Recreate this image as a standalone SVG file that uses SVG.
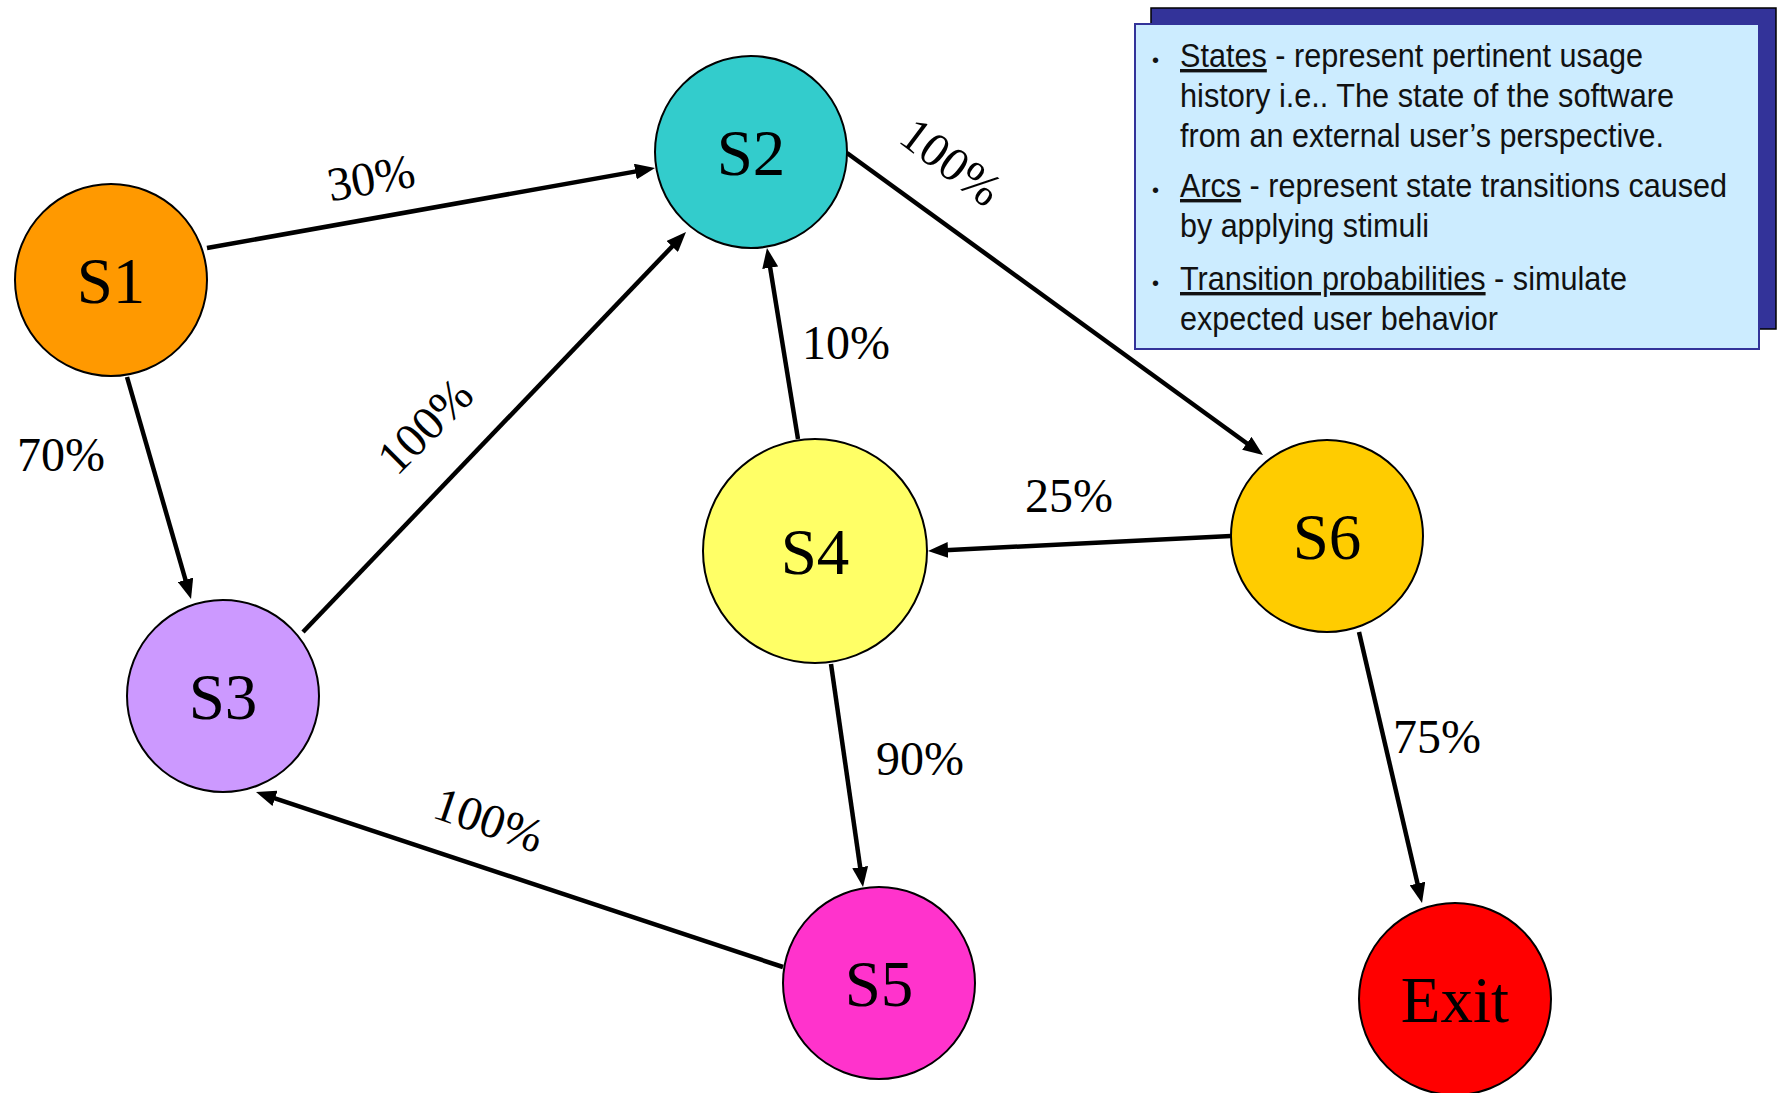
<svg xmlns="http://www.w3.org/2000/svg" width="1779" height="1093" viewBox="0 0 1779 1093">
  <style>
    .node { stroke: #000; stroke-width: 2; }
    .nlabel { font-family: "Liberation Serif", "Times New Roman", serif; font-size: 65px; fill: #000; text-anchor: middle; }
    .elabel { font-family: "Liberation Serif", "Times New Roman", serif; font-size: 48px; fill: #000; text-anchor: middle; }
    .edge { stroke: #000; stroke-width: 4.5; fill: none; marker-end: url(#arrow); }
    .info { font-family: "Liberation Sans Narrow", "Arial Narrow", "Liberation Sans", Arial, sans-serif; font-size: 34px; fill: #111; }
    .bullet { font-family: "Liberation Sans", Arial, sans-serif; font-size: 20px; fill: #111; }
    .u { text-decoration: underline; }
  </style>
  <defs>
    <marker id="arrow" markerUnits="userSpaceOnUse" markerWidth="20" markerHeight="16" refX="8" refY="8" orient="auto" viewBox="0 0 20 16">
      <path d="M0,0 L20,8 L0,16 z" fill="#000"/>
    </marker>
  </defs>
  <rect width="1779" height="1093" fill="#fff"/>

  <g id="connectors">
    <line class="edge" x1="207" y1="248" x2="643.2" y2="170.1"/>
    <line class="edge" x1="127" y1="377" x2="187.7" y2="587.5"/>
    <line class="edge" x1="303" y1="632" x2="677.7" y2="240.7"/>
    <line class="edge" x1="798" y1="439" x2="768.9" y2="259.8"/>
    <line class="edge" x1="847" y1="153" x2="1253.3" y2="448"/>
    <line class="edge" x1="1231" y1="536" x2="940" y2="550.4"/>
    <line class="edge" x1="831" y1="664" x2="861.3" y2="875.1"/>
    <line class="edge" x1="1359" y1="632" x2="1419.3" y2="891.3"/>
    <line class="edge" x1="783" y1="967" x2="267.4" y2="795.8"/>
  </g>

  <g id="edge-labels">
    <text class="elabel" transform="translate(371,178) rotate(-10)" x="0" y="16">30%</text>
    <text class="elabel" x="61" y="471">70%</text>
    <text class="elabel" transform="translate(425,426) rotate(-45)" x="0" y="16">100%</text>
    <text class="elabel" transform="translate(951,162) rotate(37)" x="0" y="16">100%</text>
    <text class="elabel" x="846" y="359">10%</text>
    <text class="elabel" x="1069" y="512">25%</text>
    <text class="elabel" x="920" y="775">90%</text>
    <text class="elabel" x="1437" y="753">75%</text>
    <text class="elabel" transform="translate(489,820) rotate(19)" x="0" y="16">100%</text>
  </g>

  <g id="S1"><circle class="node" cx="111" cy="280" r="96" fill="#FF9900"/><text class="nlabel" x="111" y="303">S1</text></g>
  <g id="S2"><circle class="node" cx="751" cy="152" r="96" fill="#33CCCC"/><text class="nlabel" x="751" y="175">S2</text></g>
  <g id="S3"><circle class="node" cx="223" cy="696" r="96" fill="#CC99FF"/><text class="nlabel" x="223" y="719">S3</text></g>
  <g id="S4"><circle class="node" cx="815" cy="551" r="112" fill="#FFFF66"/><text class="nlabel" x="815" y="574">S4</text></g>
  <g id="S5"><circle class="node" cx="879" cy="983" r="96" fill="#FF33CC"/><text class="nlabel" x="879" y="1006">S5</text></g>
  <g id="S6"><circle class="node" cx="1327" cy="536" r="96" fill="#FFCC00"/><text class="nlabel" x="1327" y="559">S6</text></g>
  <g id="Exit"><circle class="node" cx="1455" cy="999" r="96" fill="#FF0000"/><text class="nlabel" x="1455" y="1022">Exit</text></g>

  <g id="legend">
    <rect x="1151" y="8" width="625" height="321" fill="#333399" stroke="#000" stroke-width="1.5"/>
    <rect x="1135" y="24" width="624" height="325" fill="#CCECFF" stroke="#333399" stroke-width="2"/>
    <text class="bullet" x="1152" y="67">•</text>
    <text class="bullet" x="1152" y="197">•</text>
    <text class="bullet" x="1152" y="290">•</text>
    <text class="info" x="1180" y="67" textLength="463" lengthAdjust="spacingAndGlyphs"><tspan class="u">States</tspan> - represent pertinent usage</text>
    <text class="info" x="1180" y="107" textLength="494" lengthAdjust="spacingAndGlyphs">history i.e.. The state of the software</text>
    <text class="info" x="1180" y="147" textLength="484" lengthAdjust="spacingAndGlyphs">from an external user’s perspective.</text>
    <text class="info" x="1180" y="197" textLength="547" lengthAdjust="spacingAndGlyphs"><tspan class="u">Arcs</tspan> - represent state transitions caused</text>
    <text class="info" x="1180" y="237" textLength="249" lengthAdjust="spacingAndGlyphs">by applying stimuli</text>
    <text class="info" x="1180" y="290" textLength="447" lengthAdjust="spacingAndGlyphs"><tspan class="u">Transition probabilities</tspan> - simulate</text>
    <text class="info" x="1180" y="330" textLength="318" lengthAdjust="spacingAndGlyphs">expected user behavior</text>
  </g>
</svg>
